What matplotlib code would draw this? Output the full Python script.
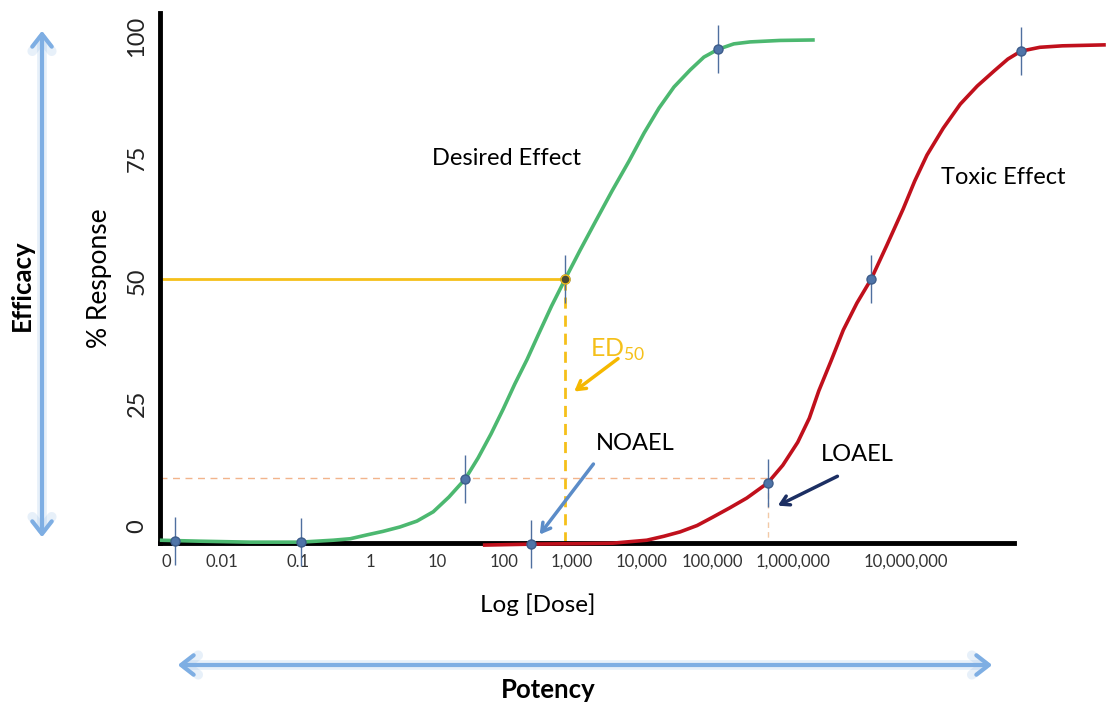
import matplotlib.pyplot as plt
from matplotlib.patches import FancyArrowPatch

plt.rcParams['font.family'] = ['Lato', 'DejaVu Sans']
plt.rcParams['mathtext.fontset'] = 'custom'
plt.rcParams['mathtext.rm'] = 'Lato'

# curves: x in decades of dose, y in % response
desired_x = [-3.09, -2.50, -1.76, -1.03, -0.54, -0.29, -0.04, 0.19, 0.44, 0.69,
             0.93, 1.16, 1.40, 1.59, 1.78, 1.96, 2.13, 2.31, 2.48, 2.67,
             2.87, 3.09, 3.31, 3.56, 3.81, 4.03, 4.25, 4.47, 4.71, 4.91,
             5.12, 5.35, 5.59, 6.03, 6.54]
desired_y = [-2.9, -3.1, -3.3, -3.3, -2.9, -2.6, -1.8, -1.1, -0.2, 1.0,
             2.9, 5.9, 9.6, 13.9, 18.8, 23.9, 29.0, 34.0, 39.2, 44.9,
             50.4, 56.3, 62.0, 68.4, 74.5, 80.2, 85.3, 89.6, 93.1, 95.7,
             97.3, 98.4, 98.8, 99.1, 99.2]
toxic_x = [1.66, 2.37, 3.09, 3.57, 4.07, 4.32, 4.56, 4.81, 5.04, 5.29,
           5.54, 5.85, 6.07, 6.29, 6.46, 6.60, 6.78, 6.96, 7.16, 7.37,
           7.60, 7.84, 8.01, 8.19, 8.43, 8.68, 8.93, 9.18, 9.38, 9.57,
           9.85, 10.18, 10.82]
toxic_y = [-3.9, -3.7, -3.6, -3.5, -2.9, -2.1, -1.2, 0.1, 1.8, 3.7,
           5.7, 8.8, 12.4, 17.1, 22.0, 27.6, 33.7, 40.0, 45.5, 50.4,
           57.3, 64.7, 70.4, 75.7, 81.2, 86.1, 89.8, 92.9, 95.3, 96.9,
           97.7, 98.0, 98.2]

# measured points on each curve
desired_pts_x = [-2.87, -1.01, 1.40, 2.87, 5.12]
desired_pts_y = [-3.1, -3.3, 9.6, 50.4, 97.3]
toxic_pts_x = [2.37, 5.85, 7.37, 9.57]
toxic_pts_y = [-3.7, 8.8, 50.4, 96.9]

ed50_x, ed50_y = 2.87, 50.4
noael_x, noael_y = 2.37, -3.7
loael_x, loael_y = 5.85, 8.8
ten_pct = 9.7

x_tick_pos = [-2.99, -2.18, -1.06, 0, 0.99, 1.97, 2.97, 4.0, 5.03, 6.22, 7.88]
x_tick_labels = ['0', '0.01', '0.1', '1', '10', '100', '1,000', '10,000',
                 '100,000', '1,000,000', '10,000,000']
y_ticks = [0, 25, 50, 75, 100]

W, H = 1106, 702
fig = plt.figure(figsize=(W / 100, H / 100), dpi=100)
ax = fig.add_axes([160 / W, 159 / H, 854 / W, 530 / H])
xmin, xmax = -3.088, 9.47
ymin, ymax = -3.47, 104.7
ax.set_xlim(xmin, xmax)
ax.set_ylim(ymin, ymax)

for s in ['top', 'right']:
    ax.spines[s].set_visible(False)
for s in ['left', 'bottom']:
    ax.spines[s].set_linewidth(3.5)
    ax.spines[s].set_color('black')

ax.set_xticks(x_tick_pos)
ax.set_xticklabels(x_tick_labels, fontsize=12, color='#333333')
ax.set_yticks(y_ticks)
ax.set_yticklabels([str(v) for v in y_ticks], rotation=90, va='center',
                   fontsize=17, color='#222222')
ax.tick_params(axis='x', length=0, pad=8)
ax.tick_params(axis='y', length=0, pad=9)

# reference lines
yellow = '#f5c01a'
ax.plot([xmin, ed50_x], [ed50_y, ed50_y], color=yellow, lw=2, zorder=2)
ax.plot([ed50_x, ed50_x], [ed50_y, ymin], color=yellow, lw=2,
        ls=(0, (4, 2.5)), zorder=2)
ax.plot([xmin, loael_x], [ten_pct, ten_pct], color='#f2b48c', lw=1,
        ls=(0, (5, 4)), zorder=2)
ax.plot([loael_x, loael_x], [loael_y, ymin], color='#f2c9a6', lw=1,
        ls=(0, (4, 3)), zorder=2)

# curves
ax.plot(desired_x, desired_y, color='#4cb870', lw=2.6, zorder=4,
        solid_capstyle='butt', solid_joinstyle='round', clip_on=False)
ax.plot(toxic_x, toxic_y, color='#c0101c', lw=2.6, zorder=4,
        solid_capstyle='butt', solid_joinstyle='round', clip_on=False)

# point markers with a vertical tick
px = desired_pts_x + toxic_pts_x
py = desired_pts_y + toxic_pts_y
ax.plot(px, py, ls='none', marker='|', markersize=34, markeredgewidth=1,
        color='#4f6f9f', zorder=5, clip_on=False)
ax.plot(px, py, ls='none', marker='o', markersize=6.5, color='#4f74a8',
        markeredgecolor='#3d5c8a', zorder=6, clip_on=False)
ax.plot([ed50_x], [ed50_y], ls='none', marker='o', markersize=6.5,
        color='#4a4a30', markeredgecolor=yellow, zorder=7)

# labels and arrows
ax.text(2.01, 75.1, 'Desired Effect', fontsize=17, ha='center', va='center')
ax.text(9.31, 71.2, 'Toxic Effect', fontsize=17, ha='center', va='center')
ax.text(3.24, 36.0, r'ED$_{\mathrm{50}}$', fontsize=18, color=yellow,
        ha='left', va='center')
ax.text(3.90, 16.9, 'NOAEL', fontsize=17, ha='center', va='center')
ax.text(7.16, 14.5, 'LOAEL', fontsize=17, ha='center', va='center')

ax.annotate('', xy=(2.97, 27.1), xytext=(3.68, 34.5),
            arrowprops=dict(arrowstyle='->,head_length=0.6,head_width=0.35',
                            color='#f5b800', lw=2.5))
ax.annotate('', xy=(noael_x + 0.1, -2.2), xytext=(3.31, 13.1),
            arrowprops=dict(arrowstyle='->,head_length=0.6,head_width=0.35',
                            color='#5b8cc8', lw=2.5))
ax.annotate('', xy=(5.96, 3.9), xytext=(6.91, 10.4),
            arrowprops=dict(arrowstyle='->,head_length=0.6,head_width=0.35',
                            color='#1c2f63', lw=2.5))

fig.text(100 / W, 1 - 278 / H, '% Response', rotation=90, fontsize=19,
         ha='center', va='center')
fig.text(538 / W, 1 - 605 / H, 'Log [Dose]', fontsize=17.5,
         ha='center', va='center')

# efficacy / potency double arrows
for lw, alpha in [(7, 0.18), (3, 1.0)]:
    fig.patches.append(FancyArrowPatch(
        (42 / W, 1 - 28 / H), (42 / W, 1 - 540 / H),
        transform=fig.transFigure, mutation_scale=20,
        arrowstyle='<->,head_length=0.45,head_width=0.35',
        color='#7eaee3', lw=lw, alpha=alpha))
    fig.patches.append(FancyArrowPatch(
        (175 / W, 1 - 665 / H), (995 / W, 1 - 665 / H),
        transform=fig.transFigure, mutation_scale=20,
        arrowstyle='<->,head_length=0.45,head_width=0.35',
        color='#7eaee3', lw=lw, alpha=alpha))
fig.text(22 / W, 1 - 285 / H, 'Efficacy', rotation=90, fontsize=18.5,
         fontweight='bold', ha='center', va='center')
fig.text(548 / W, 1 - 690 / H, 'Potency', fontsize=18.5, fontweight='bold',
         ha='center', va='center')

fig.savefig('out.png', dpi=100)
